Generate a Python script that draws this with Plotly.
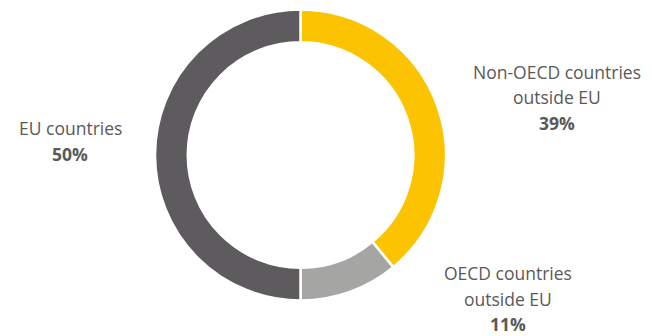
import plotly.graph_objects as go

W, H = 652, 336
labels = ["Non-OECD countries outside EU", "OECD countries outside EU", "EU countries"]
label_lines = [["Non-OECD countries", "outside EU"], ["OECD countries", "outside EU"], ["EU countries"]]
values = [39, 11, 50]
colors = ["#FBC300", "#A5A5A3", "#5D5B5E"]

# label block placement (pixel centre x, first line centre y), line pitch
label_pos = [(557, 72), (508, 273), (70, 128)]
pitch = 25.5

cx, cy, r = 300.5, 155, 145.5

fig = go.Figure(go.Pie(
    labels=labels, values=values, sort=False, direction="clockwise", rotation=0,
    hole=0.775, marker=dict(colors=colors, line=dict(color="white", width=2.5)),
    textinfo="none", hoverinfo="label+percent", showlegend=False,
    domain=dict(x=[(cx - r) / W, (cx + r) / W], y=[(H - cy - r) / H, (H - cy + r) / H]),
))

ann = []
for lines, v, (px, py) in zip(label_lines, values, label_pos):
    for i, t in enumerate(lines + [f"<b>{v}%</b>"]):
        ann.append(dict(x=px / W, y=1 - (py + i * pitch) / H, xref="paper", yref="paper",
                        text=t, showarrow=False, xanchor="center", yanchor="middle",
                        font=dict(family="Open Sans", size=17.5, color="#595959")))

fig.update_layout(width=W, height=H, margin=dict(l=0, r=0, t=0, b=0),
                  paper_bgcolor="white", plot_bgcolor="white", annotations=ann)
fig.write_html("out.html")
